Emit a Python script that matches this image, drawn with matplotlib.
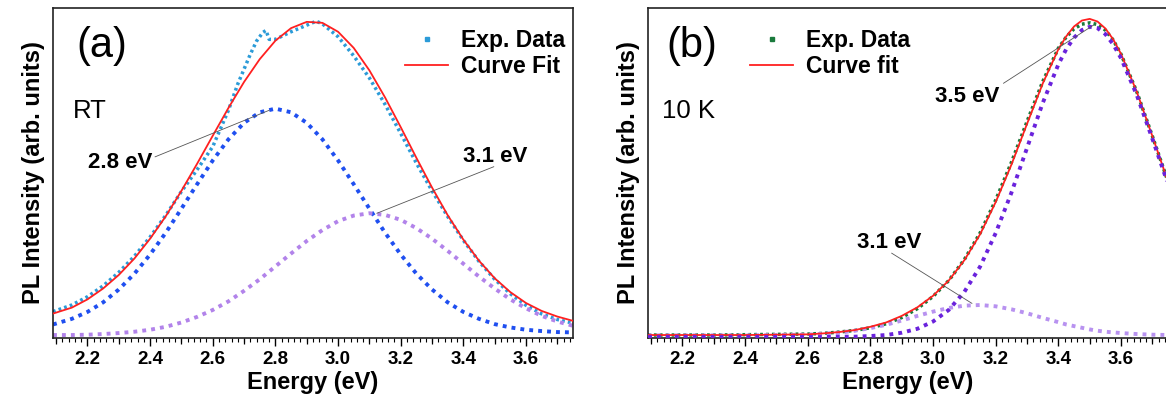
import numpy as np
import matplotlib.pyplot as plt
from matplotlib.lines import Line2D
from matplotlib.ticker import MultipleLocator

plt.rcParams['font.family'] = ['Liberation Sans', 'DejaVu Sans']

# ---- panel (a), room temperature ----
energy_a = [2.09, 2.15, 2.20, 2.25, 2.30, 2.35, 2.40, 2.45, 2.50, 2.55, 2.60, 2.65,
            2.70, 2.75, 2.80, 2.85, 2.90, 2.95, 3.00, 3.05, 3.10, 3.15, 3.20, 3.25,
            3.30, 3.35, 3.40, 3.45, 3.50, 3.55, 3.60, 3.65, 3.70, 3.75]
fit_a = [0.074, 0.092, 0.117, 0.150, 0.191, 0.241, 0.301, 0.369, 0.446, 0.528, 0.613, 0.697,
         0.776, 0.845, 0.901, 0.939, 0.958, 0.955, 0.928, 0.879, 0.811, 0.729, 0.639, 0.546,
         0.456, 0.372, 0.298, 0.234, 0.181, 0.139, 0.106, 0.082, 0.065, 0.052]
peak28_a = [0.041, 0.058, 0.079, 0.108, 0.147, 0.195, 0.253, 0.319, 0.392, 0.466, 0.538, 0.602,
            0.652, 0.684, 0.695, 0.684, 0.652, 0.602, 0.538, 0.466, 0.392, 0.319, 0.253, 0.195,
            0.147, 0.108, 0.079, 0.058, 0.042, 0.032, 0.025, 0.021, 0.018, 0.017]
peak31_a = [0.009, 0.009, 0.010, 0.012, 0.015, 0.019, 0.025, 0.034, 0.047, 0.064, 0.085, 0.111,
            0.143, 0.178, 0.217, 0.256, 0.294, 0.327, 0.354, 0.371, 0.378, 0.373, 0.358, 0.333,
            0.301, 0.264, 0.225, 0.186, 0.150, 0.117, 0.090, 0.067, 0.050, 0.037]
exp_energy_a = [2.09, 2.15, 2.20, 2.25, 2.30, 2.35, 2.40, 2.45, 2.50, 2.55, 2.60, 2.65,
                2.68, 2.70, 2.72, 2.74, 2.76, 2.77, 2.78, 2.80, 2.85, 2.90, 2.93, 2.95,
                3.00, 3.05, 3.10, 3.15, 3.20, 3.25, 3.30, 3.35, 3.40, 3.45, 3.50, 3.55,
                3.60, 3.65, 3.70, 3.75]
exp_a = [0.080, 0.100, 0.125, 0.158, 0.199, 0.248, 0.306, 0.372, 0.444, 0.510, 0.580, 0.690,
         0.770, 0.815, 0.860, 0.900, 0.926, 0.932, 0.905, 0.905, 0.928, 0.948, 0.960, 0.952,
         0.913, 0.855, 0.788, 0.708, 0.620, 0.530, 0.446, 0.368, 0.296, 0.232, 0.178, 0.134,
         0.099, 0.073, 0.056, 0.045]

# ---- panel (b), 10 K ----
energy_b = [2.09, 2.20, 2.30, 2.40, 2.50, 2.60, 2.65, 2.70, 2.75, 2.80, 2.85, 2.90, 2.95,
            3.00, 3.05, 3.10, 3.15, 3.20, 3.25, 3.30, 3.35, 3.40, 3.425, 3.45, 3.475,
            3.50, 3.525, 3.55, 3.575, 3.60, 3.65, 3.70, 3.75]
fit_b = [0.009, 0.009, 0.009, 0.009, 0.010, 0.011, 0.014, 0.018, 0.024, 0.034, 0.047, 0.067, 0.093,
         0.128, 0.174, 0.236, 0.314, 0.412, 0.525, 0.649, 0.771, 0.875, 0.914, 0.944, 0.962,
         0.967, 0.959, 0.938, 0.905, 0.861, 0.747, 0.612, 0.474]
exp_b = [0.009, 0.009, 0.009, 0.010, 0.011, 0.012, 0.014, 0.018, 0.023, 0.031, 0.043, 0.062, 0.089,
         0.126, 0.174, 0.238, 0.318, 0.418, 0.532, 0.656, 0.777, 0.878, 0.912, 0.937, 0.951,
         0.955, 0.950, 0.933, 0.903, 0.860, 0.747, 0.612, 0.474]
peak35_b = [0.003, 0.003, 0.003, 0.003, 0.003, 0.003, 0.003, 0.004, 0.004, 0.006, 0.009, 0.016, 0.028,
            0.050, 0.085, 0.140, 0.216, 0.318, 0.440, 0.576, 0.712, 0.829, 0.875, 0.910, 0.933,
            0.943, 0.939, 0.921, 0.890, 0.848, 0.737, 0.604, 0.467]
peak31_b = [0.008, 0.008, 0.008, 0.008, 0.009, 0.010, 0.013, 0.016, 0.022, 0.030, 0.040, 0.053, 0.067,
            0.080, 0.091, 0.098, 0.100, 0.096, 0.087, 0.075, 0.061, 0.048, 0.041, 0.036, 0.031,
            0.026, 0.022, 0.019, 0.017, 0.015, 0.012, 0.010, 0.009]

tick_vals = [2.2, 2.4, 2.6, 2.8, 3.0, 3.2, 3.4, 3.6]
tick_labels = ['2.2', '2.4', '2.6', '2.8', '3.0', '3.2', '3.4', '3.6']
mid_ticks = [2.1, 2.3, 2.5, 2.7, 2.9, 3.1, 3.3, 3.5, 3.7]

fig = plt.figure(figsize=(11.66, 4.08), dpi=100)
ax_a = fig.add_axes([53 / 1166, 70 / 408, 520 / 1166, 330 / 408])
ax_b = fig.add_axes([648 / 1166, 70 / 408, 520 / 1166, 330 / 408])

dots_big = (0, (1.0, 1.3))
dots_fine = (0, (0.8, 0.9))
red = '#ff2020'

# panel a curves
ax_a.plot(exp_energy_a, exp_a, color='#2b9bd8', lw=2.5, ls=dots_fine, zorder=2)
ax_a.plot(energy_a, fit_a, color=red, lw=1.3, zorder=3)
ax_a.plot(energy_a, peak28_a, color='#1f4ff0', lw=2.8, ls=dots_big, zorder=2)
ax_a.plot(energy_a, peak31_a, color='#b283ea', lw=2.8, ls=dots_big, zorder=2)

# panel b curves
ax_b.plot(energy_b, exp_b, color='#1a7a3c', lw=2.5, ls=dots_fine, zorder=2)
ax_b.plot(energy_b, fit_b, color=red, lw=1.3, zorder=3)
ax_b.plot(energy_b, peak35_b, color='#6a22dc', lw=2.8, ls=dots_big, zorder=4)
ax_b.plot(energy_b, peak31_b, color='#b892f0', lw=2.8, ls=dots_big, zorder=2)

# annotations
gray = '#555555'
ax_a.plot([2.416, 2.78], [0.549, 0.69], color=gray, lw=0.6, zorder=5)
ax_a.text(2.202, 0.515, '2.8 eV', fontsize=16, fontweight='bold', va='baseline')
ax_a.plot([3.497, 3.124], [0.519, 0.378], color=gray, lw=0.6, zorder=5)
ax_a.text(3.40, 0.533, '3.1 eV', fontsize=16, fontweight='bold', va='baseline')

ax_b.plot([3.225, 3.512], [0.772, 0.948], color=gray, lw=0.6, zorder=5)
ax_b.text(3.007, 0.716, '3.5 eV', fontsize=16, fontweight='bold', va='baseline')
ax_b.plot([2.868, 3.124], [0.257, 0.105], color=gray, lw=0.6, zorder=5)
ax_b.text(2.758, 0.273, '3.1 eV', fontsize=16, fontweight='bold', va='baseline')

ax_a.text(0.045, 0.885, '(a)', transform=ax_a.transAxes, fontsize=30, va='center')
ax_a.text(0.038, 0.667, 'RT', transform=ax_a.transAxes, fontsize=18.5, va='baseline')
ax_b.text(0.036, 0.885, '(b)', transform=ax_b.transAxes, fontsize=30, va='center')
ax_b.text(0.026, 0.667, '10 K', transform=ax_b.transAxes, fontsize=18.5, va='baseline')

# legends
h_exp_a = Line2D([], [], color='#2b9bd8', marker='s', markersize=3, ls='none')
h_exp_b = Line2D([], [], color='#1a7a3c', marker='s', markersize=3, ls='none')
h_fit = Line2D([], [], color=red, lw=1.3)
leg_kw = dict(frameon=False, prop={'size': 16.5, 'weight': 'bold'}, handlelength=1.9,
              handletextpad=0.55, labelspacing=0.1, borderpad=0, borderaxespad=0, numpoints=1)
ax_a.legend([h_exp_a, h_fit], ['Exp. Data', 'Curve Fit'], loc='upper right',
            bbox_to_anchor=(0.985, 0.935), **leg_kw)
ax_b.legend([h_exp_b, h_fit], ['Exp. Data', 'Curve fit'], loc='upper left',
            bbox_to_anchor=(0.196, 0.935), **leg_kw)

for ax in (ax_a, ax_b):
    ax.set_xlim(2.09, 3.75)
    ax.set_ylim(0, 1)
    ax.set_yticks([])
    ax.set_xticks(tick_vals)
    ax.set_xticklabels(tick_labels, fontweight='bold')
    ax.xaxis.set_minor_locator(MultipleLocator(0.02))
    ax.tick_params(axis='x', which='major', direction='out', length=5.5, width=1.0,
                   pad=4, labelsize=13.5)
    ax.tick_params(axis='x', which='minor', direction='out', length=3, width=0.8)
    sec = ax.secondary_xaxis('bottom')
    sec.set_xticks(mid_ticks)
    sec.tick_params(length=4.5, width=0.9, labelbottom=False)
    sec.spines['bottom'].set_visible(False)
    for s in ax.spines.values():
        s.set_linewidth(1.2)
        s.set_color('#222222')
    ax.set_xlabel('Energy (eV)', fontsize=17, fontweight='bold', labelpad=2)
    ax.set_ylabel('PL Intensity (arb. units)', fontsize=17, fontweight='bold', labelpad=6)

fig.savefig('out.png', dpi=100)
